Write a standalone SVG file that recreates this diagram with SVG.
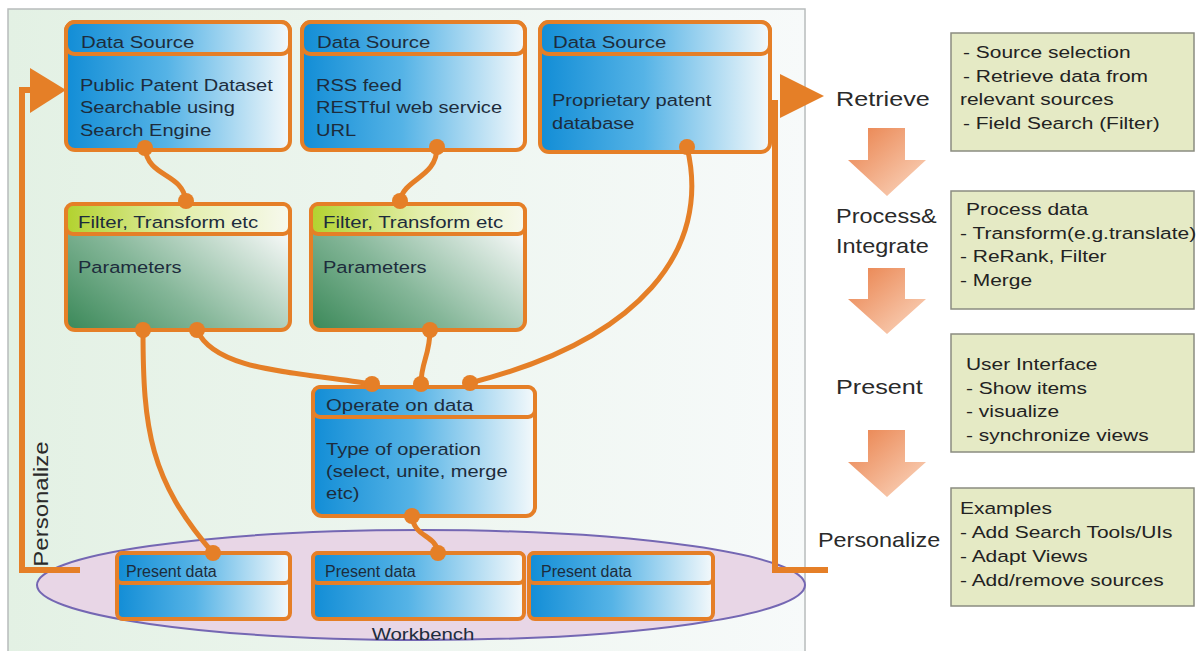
<svg xmlns="http://www.w3.org/2000/svg" width="1203" height="651" viewBox="0 0 1203 651">
<defs>
<linearGradient id="bg" x1="0" y1="0" x2="1" y2="0"><stop offset="0" stop-color="#e3f1e4"/><stop offset="1" stop-color="#f7fafa"/></linearGradient>
<linearGradient id="blue" x1="0" y1="0" x2="1" y2="0"><stop offset="0" stop-color="#128dd6"/><stop offset="0.45" stop-color="#55b3e6"/><stop offset="1" stop-color="#f4f9fb"/></linearGradient>
<linearGradient id="green" x1="0" y1="1" x2="1" y2="0.3"><stop offset="0" stop-color="#3a8858"/><stop offset="0.45" stop-color="#84b698"/><stop offset="1" stop-color="#f2f6f4"/></linearGradient>
<linearGradient id="lime" x1="0" y1="0" x2="1" y2="0"><stop offset="0" stop-color="#b2d22e"/><stop offset="0.5" stop-color="#e2eea8"/><stop offset="1" stop-color="#f7f9ee"/></linearGradient>
<linearGradient id="oarrow" x1="0" y1="0" x2="1" y2="1"><stop offset="0" stop-color="#e9804a"/><stop offset="1" stop-color="#fbd9c3"/></linearGradient>
<style>
.box{stroke:#e57f27;stroke-width:4}
.t{font-family:"Liberation Sans",Arial,sans-serif;font-size:17px;fill:#1d2c3c}
.ph{font-family:"Liberation Sans",Arial,sans-serif;font-size:16px;fill:#1d2c3c}
.lab{font-family:"Liberation Sans",Arial,sans-serif;font-size:21px;fill:#2a2a2a}
.note{font-family:"Liberation Sans",Arial,sans-serif;font-size:16.5px;fill:#222}
.gb{fill:#e5eac5;stroke:#8a8c80;stroke-width:1.5}
.con{fill:none;stroke:#e57f27;stroke-width:5;stroke-linecap:round}
.dot{fill:#e57f27}
.loop{fill:none;stroke:#e57f27;stroke-width:6}
</style>
</defs>
<rect x="0" y="0" width="1203" height="651" fill="#ffffff"/>
<rect id="panel" x="8" y="9" width="797" height="650" fill="url(#bg)" stroke="#b8bcbc" stroke-width="1.5"/>

<g id="workbench">
<ellipse cx="421" cy="585" rx="384" ry="55" fill="#e8d6e6" stroke="#7467b3" stroke-width="2"/>
<text transform="translate(423,640) scale(1.2,1)" text-anchor="middle" class="ph" style="font-size:17px">Workbench</text>
</g>

<g id="loops">
<polyline class="loop" points="80,570 22,570 22,90 36,90"/>
<polygon points="30,68 66,90 30,113" fill="#e57f27"/>
<polyline class="loop" points="775,100 775,570 828,570"/>
<polygon points="780,74 824,96 780,118" fill="#e57f27"/>
<text transform="translate(48,504) rotate(-90) scale(1.2,1)" text-anchor="middle" class="lab" style="font-size:20px">Personalize</text>
</g>

<g id="ds1">
<rect class="box" x="66" y="22" width="224" height="128" rx="9" fill="url(#blue)"/>
<rect x="66" y="22" width="224" height="32" rx="9" fill="url(#blue)" stroke="#e57f27" stroke-width="4"/>
<text transform="translate(81,48) scale(1.2,1)" class="t">Data Source</text>
<text transform="translate(80,91) scale(1.18,1)" class="t">Public Patent Dataset</text>
<text transform="translate(80,113) scale(1.18,1)" class="t">Searchable using</text>
<text transform="translate(80,136) scale(1.18,1)" class="t">Search Engine</text>
</g>
<g id="ds2">
<rect class="box" x="302" y="22" width="223" height="128" rx="9" fill="url(#blue)"/>
<rect x="302" y="22" width="223" height="32" rx="9" fill="url(#blue)" stroke="#e57f27" stroke-width="4"/>
<text transform="translate(317,48) scale(1.2,1)" class="t">Data Source</text>
<text transform="translate(316,91) scale(1.18,1)" class="t">RSS feed</text>
<text transform="translate(316,113) scale(1.18,1)" class="t">RESTful web service</text>
<text transform="translate(316,136) scale(1.18,1)" class="t">URL</text>
</g>
<g id="ds3">
<rect class="box" x="540" y="22" width="230" height="130" rx="9" fill="url(#blue)"/>
<rect x="540" y="22" width="230" height="32" rx="9" fill="url(#blue)" stroke="#e57f27" stroke-width="4"/>
<text transform="translate(553,48) scale(1.2,1)" class="t">Data Source</text>
<text transform="translate(552,106) scale(1.18,1)" class="t">Proprietary patent</text>
<text transform="translate(552,129) scale(1.18,1)" class="t">database</text>
</g>

<g id="filter1">
<rect class="box" x="66" y="204" width="224" height="126" rx="9" fill="url(#green)"/>
<rect x="66" y="204" width="224" height="30" rx="7" fill="url(#lime)" stroke="#e57f27" stroke-width="4"/>
<text transform="translate(78,228) scale(1.2,1)" class="t">Filter, Transform etc</text>
<text transform="translate(78,273) scale(1.18,1)" class="t">Parameters</text>
</g>
<g id="filter2">
<rect class="box" x="311" y="204" width="214" height="126" rx="9" fill="url(#green)"/>
<rect x="311" y="204" width="214" height="30" rx="7" fill="url(#lime)" stroke="#e57f27" stroke-width="4"/>
<text transform="translate(323,228) scale(1.2,1)" class="t">Filter, Transform etc</text>
<text transform="translate(323,273) scale(1.18,1)" class="t">Parameters</text>
</g>

<g id="operate">
<rect class="box" x="313" y="387" width="222" height="129" rx="9" fill="url(#blue)"/>
<rect x="313" y="387" width="222" height="30" rx="7" fill="url(#blue)" stroke="#e57f27" stroke-width="4"/>
<text transform="translate(326,411) scale(1.2,1)" class="t">Operate on data</text>
<text transform="translate(326,455) scale(1.18,1)" class="t">Type of operation</text>
<text transform="translate(326,477) scale(1.18,1)" class="t">(select, unite, merge</text>
<text transform="translate(326,499) scale(1.18,1)" class="t">etc)</text>
</g>

<g id="pd1">
<rect class="box" x="117" y="553" width="173" height="66" rx="6" fill="url(#blue)"/>
<rect x="117" y="553" width="173" height="30" rx="5" fill="url(#blue)" stroke="#e57f27" stroke-width="4"/>
<text x="126" y="577" class="ph">Present data</text>
</g>
<g id="pd2">
<rect class="box" x="313" y="553" width="211" height="66" rx="6" fill="url(#blue)"/>
<rect x="313" y="553" width="211" height="30" rx="5" fill="url(#blue)" stroke="#e57f27" stroke-width="4"/>
<text x="325" y="577" class="ph">Present data</text>
</g>
<g id="pd3">
<rect class="box" x="529" y="553" width="184" height="66" rx="6" fill="url(#blue)"/>
<rect x="529" y="553" width="184" height="30" rx="5" fill="url(#blue)" stroke="#e57f27" stroke-width="4"/>
<text x="541" y="577" class="ph">Present data</text>
</g>

<g id="connectors">
<path class="con" d="M145,148 C148,178 182,172 186,201"/>
<path class="con" d="M437,147 C437,178 404,178 400,201"/>
<path class="con" d="M687,147 C712,250 640,340 470,383"/>
<path class="con" d="M143,330 C143,430 150,480 213,553"/>
<path class="con" d="M197,330 C215,372 300,372 372,384"/>
<path class="con" d="M430,330 C430,355 421,362 421,384"/>
<path class="con" d="M412,516 C414,538 436,534 438,553"/>
<circle class="dot" cx="145" cy="148" r="8"/>
<circle class="dot" cx="186" cy="201" r="8"/>
<circle class="dot" cx="437" cy="147" r="8"/>
<circle class="dot" cx="400" cy="201" r="8"/>
<circle class="dot" cx="687" cy="147" r="8"/>
<circle class="dot" cx="143" cy="330" r="8"/>
<circle class="dot" cx="197" cy="330" r="8"/>
<circle class="dot" cx="430" cy="330" r="8"/>
<circle class="dot" cx="372" cy="384" r="8"/>
<circle class="dot" cx="421" cy="384" r="8"/>
<circle class="dot" cx="470" cy="383" r="8"/>
<circle class="dot" cx="412" cy="516" r="8"/>
<circle class="dot" cx="213" cy="553" r="8"/>
<circle class="dot" cx="438" cy="553" r="8"/>
</g>

<g id="stages">
<text transform="translate(836,106) scale(1.2,1)" class="lab">Retrieve</text>
<text transform="translate(836,223) scale(1.12,1)" class="lab">Process&amp;</text>
<text transform="translate(836,253) scale(1.12,1)" class="lab">Integrate</text>
<text transform="translate(836,394) scale(1.2,1)" class="lab">Present</text>
<text transform="translate(818,547) scale(1.17,1)" class="lab" style="font-size:20px">Personalize</text>
<polygon points="868,128 905,128 905,160 926,160 887,196 848,160 868,160" fill="url(#oarrow)"/>
<polygon points="868,268 905,268 905,299 926,299 887,334 848,299 868,299" fill="url(#oarrow)"/>
<polygon points="868,430 905,430 905,462 926,462 887,497 848,462 868,462" fill="url(#oarrow)"/>
</g>

<g id="note1">
<rect class="gb" x="951" y="33" width="243" height="118"/>
<text transform="translate(963,58) scale(1.27,1)" class="note">- Source selection</text>
<text transform="translate(963,82) scale(1.27,1)" class="note">- Retrieve data from</text>
<text transform="translate(960,105) scale(1.27,1)" class="note">relevant sources</text>
<text transform="translate(963,129) scale(1.27,1)" class="note">- Field Search (Filter)</text>
</g>
<g id="note2">
<rect class="gb" x="951" y="191" width="243" height="118"/>
<text transform="translate(966,215) scale(1.27,1)" class="note">Process data</text>
<text transform="translate(960,239) scale(1.27,1)" class="note">- Transform(e.g.translate)</text>
<text transform="translate(960,262) scale(1.27,1)" class="note">- ReRank, Filter</text>
<text transform="translate(960,286) scale(1.27,1)" class="note">- Merge</text>
</g>
<g id="note3">
<rect class="gb" x="951" y="334" width="243" height="118"/>
<text transform="translate(966,370) scale(1.27,1)" class="note">User Interface</text>
<text transform="translate(966,394) scale(1.27,1)" class="note">- Show items</text>
<text transform="translate(966,417) scale(1.27,1)" class="note">- visualize</text>
<text transform="translate(966,441) scale(1.27,1)" class="note">- synchronize views</text>
</g>
<g id="note4">
<rect class="gb" x="951" y="488" width="243" height="118"/>
<text transform="translate(960,514) scale(1.27,1)" class="note">Examples</text>
<text transform="translate(960,538) scale(1.27,1)" class="note">- Add Search Tools/UIs</text>
<text transform="translate(960,562) scale(1.27,1)" class="note">- Adapt Views</text>
<text transform="translate(960,586) scale(1.27,1)" class="note">- Add/remove sources</text>
</g>
</svg>
